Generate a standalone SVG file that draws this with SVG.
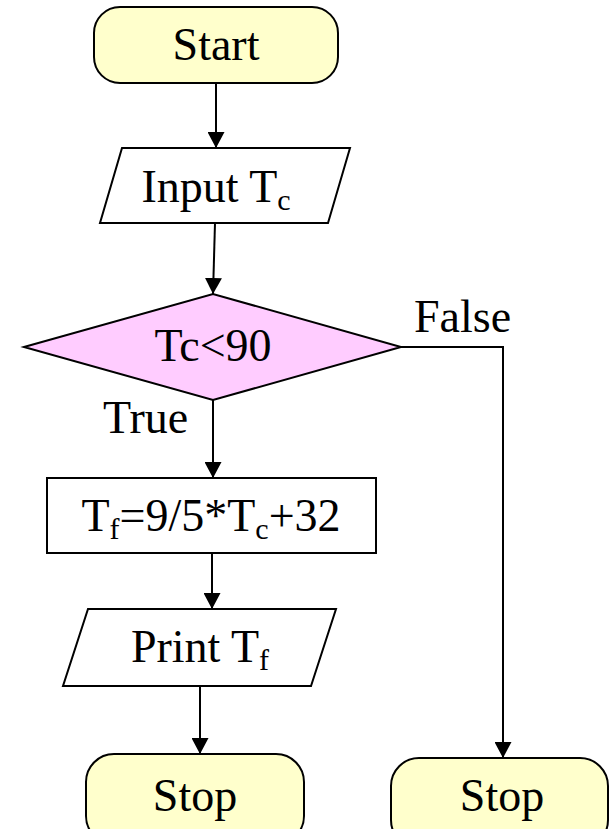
<svg xmlns="http://www.w3.org/2000/svg" width="610" height="829" viewBox="0 0 610 829">
<style>
.term{fill:#FFFFCC;stroke:#000;stroke-width:2;}
.box{fill:#fff;stroke:#000;stroke-width:2;}
.dec{fill:#FFCCFF;stroke:#000;stroke-width:2;}
text{font-family:"Liberation Serif","DejaVu Serif",serif;font-size:46px;fill:#000;text-anchor:middle;}
.sub{font-size:30px;}
.lbl{text-anchor:start;}
.c{fill:none;stroke:#000;stroke-width:2;}
</style>
<defs>
<marker id="ah" markerWidth="16" markerHeight="17" refX="16" refY="8.5" orient="auto" markerUnits="userSpaceOnUse">
<path d="M0,0 L16,8.5 L0,17 Z" fill="#000"/>
</marker>
</defs>
<g id="connectors">
<path class="c" d="M216,83 L216,148" marker-end="url(#ah)"/>
<path class="c" d="M215,223 L213,294" marker-end="url(#ah)"/>
<path class="c" d="M213,400 L213,478" marker-end="url(#ah)"/>
<path class="c" d="M212,553 L212,609" marker-end="url(#ah)"/>
<path class="c" d="M200,686 L200,754" marker-end="url(#ah)"/>
<path class="c" d="M401,347 L503,347 L503,758" marker-end="url(#ah)"/>
</g>
<g id="start">
<rect class="term" x="94" y="7" width="244" height="76" rx="26" ry="26"/>
<text x="216" y="60">Start</text>
</g>
<g id="input">
<polygon class="box" points="122,148 350,148 328,223 100,223"/>
<text x="216" y="202">Input T<tspan class="sub" dy="8">c</tspan></text>
</g>
<g id="decision">
<polygon class="dec" points="24,347 213,294 401,347 213,400"/>
<text x="213" y="361">Tc&lt;90</text>
</g>
<g id="labels">
<text class="lbl" x="103" y="433">True</text>
<text class="lbl" x="414" y="332">False</text>
</g>
<g id="compute">
<rect class="box" x="47" y="478" width="329" height="75"/>
<text x="211" y="531">T<tspan class="sub" dy="8">f</tspan><tspan dy="-8">=9/5*T</tspan><tspan class="sub" dy="8">c</tspan><tspan dy="-8">+32</tspan></text>
</g>
<g id="print">
<polygon class="box" points="88,609 336,609 311,686 63,686"/>
<text x="200" y="662">Print T<tspan class="sub" dy="8">f</tspan></text>
</g>
<g id="stop1">
<rect class="term" x="86" y="754" width="218" height="90" rx="28" ry="28"/>
<text x="195" y="811">Stop</text>
</g>
<g id="stop2">
<rect class="term" x="391" y="758" width="217" height="90" rx="28" ry="28"/>
<text x="502" y="811">Stop</text>
</g>
</svg>
